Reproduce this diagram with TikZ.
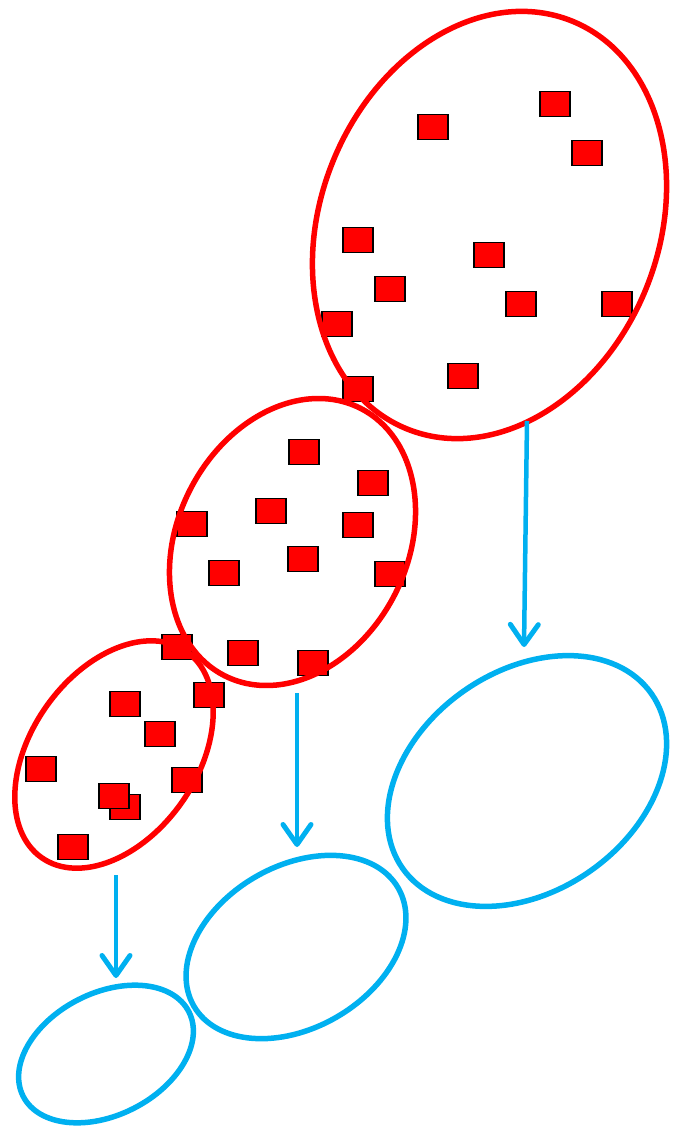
\documentclass[tikz,border=0pt]{standalone}
\usetikzlibrary{shapes.geometric,arrows.meta}
\definecolor{setred}{RGB}{255,0,0}
\definecolor{setblue}{RGB}{0,176,240}

\begin{document}
\begin{tikzpicture}[x=1pt,y=-1pt,
   redset/.style={draw=setred,line width=5.5pt,ellipse,inner sep=0pt},
   blueset/.style={draw=setblue,line width=5.5pt,ellipse,inner sep=0pt},
   item/.style={draw=black,fill=setred,line width=1.5pt,minimum width=30pt,minimum height=25pt,inner sep=0pt},
   map/.style={draw=setblue,line width=4.5pt,-{Straight Barb[length=20pt,width=28pt,line width=5pt,round]}}]
   \useasboundingbox (0,0) rectangle (672,1131);

   \foreach \x/\y [count=\i] in {433/127,555/104,587/153,358/240,489/255,390/289,521/304,617/304,337/324,463/376,358/389,
      304/452,373/483,192/524,271/511,358/525,224/573,303/559,390/574,177/647,243/653,313/663,
      209/695,125/704,160/734,41/769,187/780,125/807,114/796,73/847}
      \node[item] (p\i) at (\x,\y) {};

   \node[redset,minimum width=440pt,minimum height=338pt,rotate=68] (A) at (489.5,225) {};
   \node[redset,minimum width=300pt,minimum height=230pt,rotate=63] (B) at (292.5,542) {};
   \node[redset,minimum width=252pt,minimum height=166pt,rotate=55] (C) at (114,754.5) {};

   \node[blueset,minimum width=304pt,minimum height=220pt,rotate=35] (fA) at (527,781) {};
   \node[blueset,minimum width=236pt,minimum height=162pt,rotate=30] (fB) at (296,947) {};
   \node[blueset,minimum width=186pt,minimum height=122pt,rotate=27] (fC) at (106,1054) {};

   \coordinate (A out) at (527,421);
   \coordinate (fA in) at (524,647);
   \coordinate (B out) at (297,693);
   \coordinate (fB in) at (297,847);
   \coordinate (C out) at (116,875);
   \coordinate (fC in) at (116,978);

   \draw[map] (A out) -- (fA in);
   \draw[map] (B out) -- (fB in);
   \draw[map] (C out) -- (fC in);
\end{tikzpicture}
\end{document}
